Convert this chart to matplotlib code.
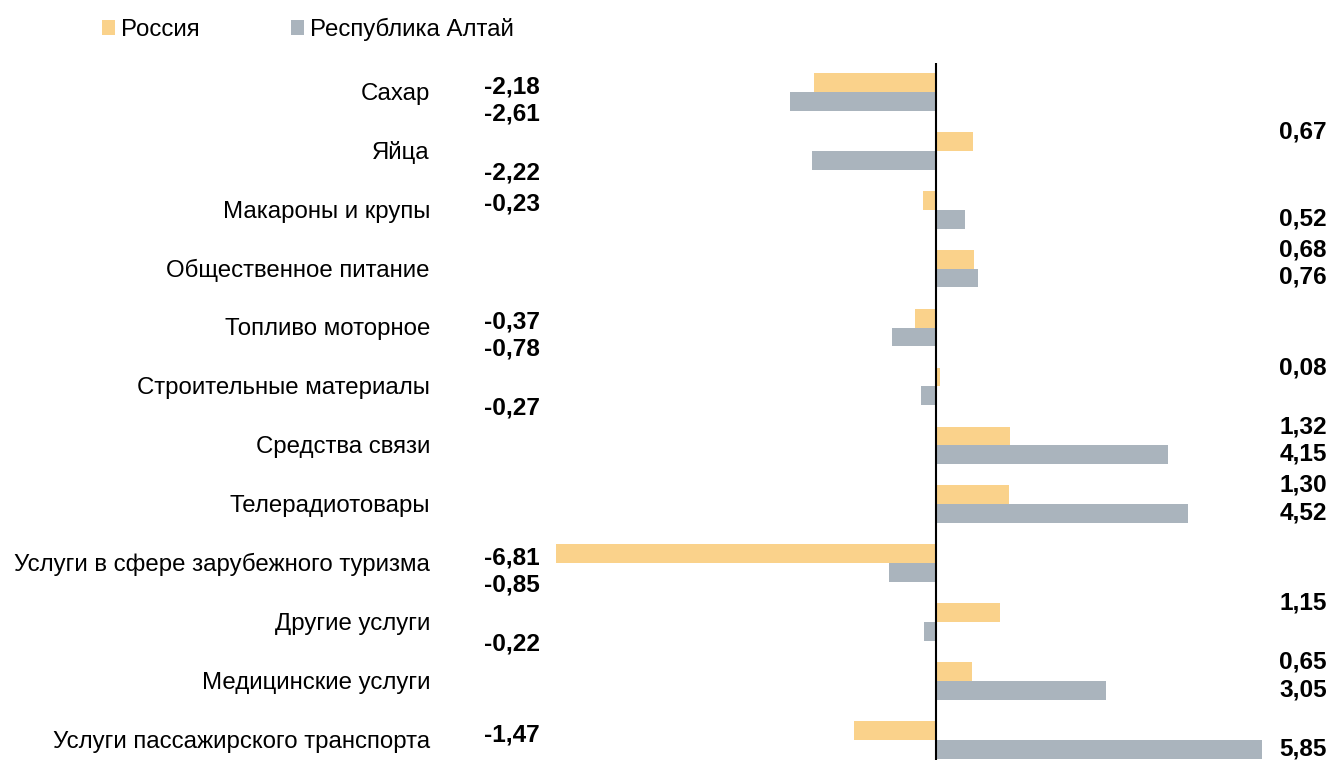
import matplotlib
matplotlib.use("Agg")
import matplotlib.pyplot as plt
from matplotlib.transforms import blended_transform_factory

categories = ["Сахар", "Яйца", "Макароны и крупы", "Общественное питание",
              "Топливо моторное", "Строительные материалы", "Средства связи",
              "Телерадиотовары", "Услуги в сфере зарубежного туризма",
              "Другие услуги", "Медицинские услуги", "Услуги пассажирского транспорта"]
russia = [-2.18, 0.67, -0.23, 0.68, -0.37, 0.08, 1.32, 1.30, -6.81, 1.15, 0.65, -1.47]
altai = [-2.61, -2.22, 0.52, 0.76, -0.78, -0.27, 4.15, 4.52, -0.85, -0.22, 3.05, 5.85]
series_names = ["Россия", "Республика Алтай"]

c_ru = "#FAD28B"
c_al = "#AAB4BD"
FONT = "Liberation Sans"
W, H = 1329, 760
fig = plt.figure(figsize=(W / 100, H / 100), dpi=100)

px_per_unit = 55.8
zero_px = 936
left_px, right_px = 540, 1329
top_px, bottom_px = 62.5, 760
ax = fig.add_axes([left_px / W, 1 - bottom_px / H, (right_px - left_px) / W, (bottom_px - top_px) / H])
ax.set_xlim((left_px - zero_px) / px_per_unit, (right_px - zero_px) / px_per_unit)
group_px = 58.9
ax.set_ylim((bottom_px - top_px) / group_px - 0.5, -0.5)

bh = 0.32
y = list(range(len(categories)))
ax.barh([i - bh / 2 for i in y], russia, height=bh, color=c_ru, label=series_names[0])
ax.barh([i + bh / 2 for i in y], altai, height=bh, color=c_al, label=series_names[1])
ax.axvline(0, color="black", lw=1.5)
for s in ax.spines.values():
    s.set_visible(False)
ax.set_xticks([])
ax.set_yticks([])

trans_fig_x = blended_transform_factory(fig.transFigure, ax.transData)
for i, cat in enumerate(categories):
    ax.text(430 / W, i + 0.03, cat, transform=trans_fig_x, ha="right", va="center",
            fontsize=17.3, family=FONT)

def fmt(v):
    return f"{v:.2f}".replace(".", ",")

for i in y:
    r = russia[i]
    a = altai[i]
    ry = i + (-0.32 if r >= 0 else -0.09)
    ay = i + (0.15 if a >= 0 else 0.37)
    rx = 1327 / W if r >= 0 else 540 / W
    axx = 1327 / W if a >= 0 else 540 / W
    ax.text(rx, ry, fmt(r), transform=trans_fig_x, ha="right", va="center",
            fontsize=17.6, fontweight="bold", family=FONT)
    ax.text(axx, ay, fmt(a), transform=trans_fig_x, ha="right", va="center",
            fontsize=17.6, fontweight="bold", family=FONT)

leg = fig.legend(loc="upper left", bbox_to_anchor=(80 / W, 1 + 4 / H), ncol=2,
                 frameon=False, prop={"family": FONT, "size": 17.3},
                 handlelength=0.55, handleheight=0.55, handletextpad=0.25,
                 columnspacing=3.8)

fig.savefig("out.png", dpi=100)
